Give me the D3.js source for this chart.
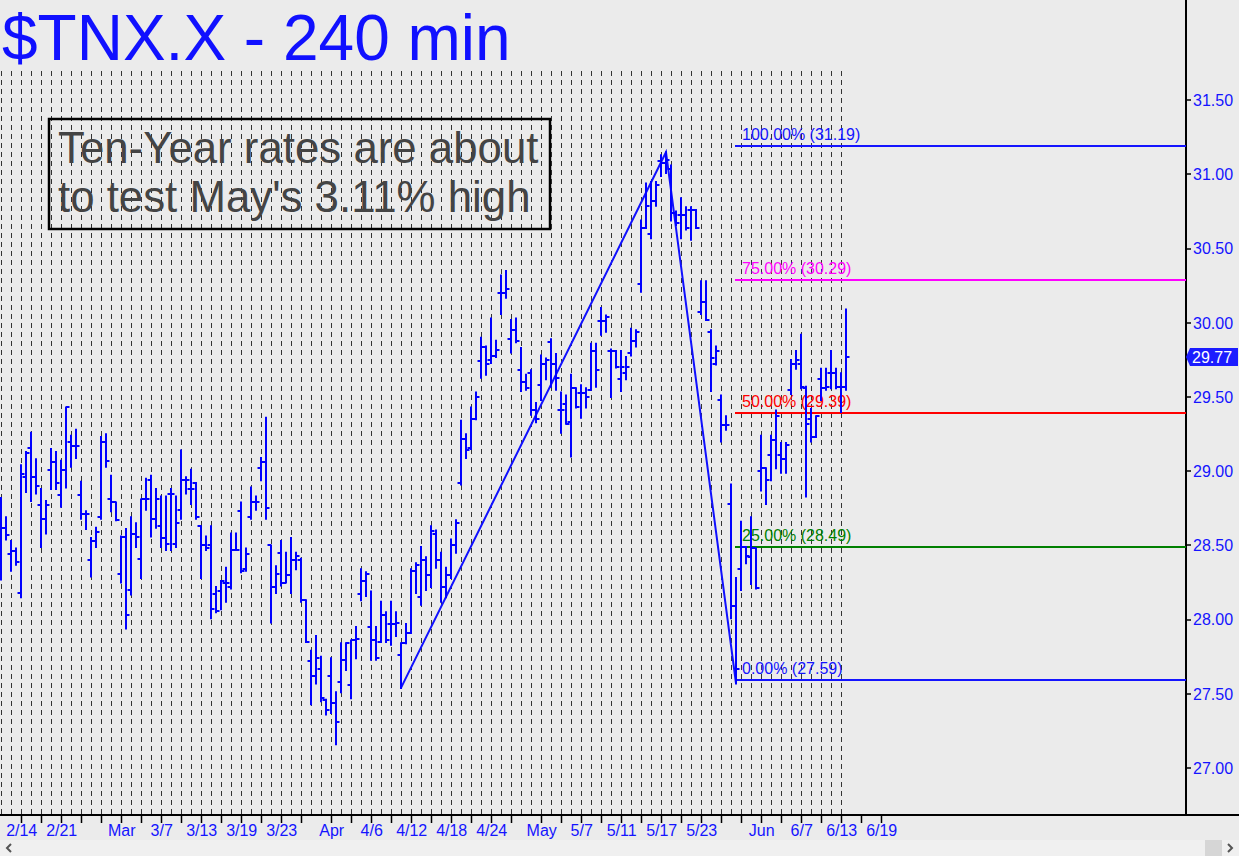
<!DOCTYPE html>
<html><head><meta charset="utf-8">
<script src="https://cdn.jsdelivr.net/npm/d3@7"></script>
<style>html,body{margin:0;padding:0;background:#ebebeb;overflow:hidden}svg{display:block}</style>
</head><body><svg id="c" width="1239" height="856"></svg>
<script>
// ---- data (TNX x10, 240-min bars, two bars per trading day) ----
const opens = [28.75,28.62,28.44,28.46,28.18,28.96,29.16,28.96,28.77,28.68,
29.01,29.06,28.84,29.01,29.20,29.17,28.84,28.71,28.40,28.53,
28.69,29.20,28.81,28.79,28.31,28.56,28.20,28.58,28.41,28.81,
28.94,28.68,28.63,28.55,28.85,28.51,28.74,28.94,28.88,28.92,
28.63,28.50,28.50,28.17,28.19,28.25,28.22,28.47,28.73,28.34,
28.69,28.79,29.02,29.06,28.50,28.22,28.45,28.25,28.30,28.40,
28.40,28.13,27.72,27.62,27.67,27.46,27.62,27.44,27.58,27.73,
27.56,27.86,28.17,28.26,27.95,27.86,27.85,28.03,27.97,27.97,
27.76,27.84,27.91,28.33,28.15,28.40,28.30,28.58,28.40,28.22,
28.30,28.50,28.92,29.22,29.16,29.35,29.74,29.84,29.75,29.78,
30.20,30.20,29.89,29.95,29.68,29.60,29.66,29.41,29.58,29.72,
29.87,29.72,29.41,29.45,29.33,29.56,29.53,29.53,29.55,29.81,
30.01,30.01,29.81,29.81,29.62,29.66,29.80,29.88,30.26,30.64,
30.60,30.82,31.09,31.08,31.04,30.74,30.73,30.73,30.76,30.76,
30.07,30.14,29.94,29.72,29.48,29.31,28.78,28.09,28.34,28.49,
28.42,28.48,29.00,29.02,29.11,29.21,29.11,29.08,29.55,29.72,
29.72,29.56,29.35,29.23,29.62,29.56,29.66,29.66,29.57,29.57];
const highs = [28.82,28.69,28.53,28.48,29.04,29.13,29.26,29.08,28.88,28.80,
29.15,29.13,29.07,29.43,29.24,29.28,28.93,28.73,28.55,28.62,
29.23,29.25,28.97,28.79,28.56,28.61,28.69,28.65,28.81,28.95,
28.97,28.88,28.83,28.83,28.88,28.83,29.14,28.96,29.01,28.92,
28.63,28.56,28.63,28.22,28.26,28.35,28.58,28.58,28.79,28.48,
28.89,28.83,29.09,29.36,28.50,28.36,28.53,28.45,28.55,28.45,
28.41,28.13,27.79,27.89,27.75,27.46,27.74,27.51,27.84,27.84,
27.86,27.95,28.34,28.32,28.19,27.95,28.12,28.05,28.12,28.05,
27.84,27.97,28.34,28.38,28.49,28.42,28.63,28.60,28.45,28.35,
28.54,28.67,29.34,29.25,29.43,29.53,29.90,29.84,30.03,29.88,
30.32,30.35,30.02,30.03,29.83,29.65,29.68,29.46,29.78,29.76,
29.89,29.79,29.53,29.51,29.65,29.56,29.58,29.56,29.86,29.86,
30.10,30.05,29.82,29.81,29.81,29.77,29.96,29.95,30.69,30.94,
30.95,30.95,31.13,31.15,31.06,30.75,30.84,30.78,30.78,30.76,
30.28,30.28,29.95,29.84,29.51,29.37,28.91,28.28,28.66,28.49,
28.69,28.48,29.24,29.02,29.24,29.41,29.19,29.19,29.75,29.81,
29.92,29.57,29.42,29.37,29.69,29.69,29.81,29.69,29.66,30.09];
const lows = [28.27,28.54,28.33,28.37,28.15,28.86,28.80,28.85,28.49,28.58,
28.88,28.88,28.76,28.89,29.03,29.09,28.68,28.61,28.29,28.49,
28.68,29.03,28.73,28.67,28.25,27.94,28.17,28.49,28.28,28.74,
28.56,28.62,28.49,28.47,28.47,28.49,28.68,28.85,28.78,28.68,
28.28,28.47,28.01,28.05,28.07,28.12,28.21,28.47,28.32,28.33,
28.68,28.74,28.94,28.68,27.98,28.18,28.23,28.25,28.18,28.34,
28.12,27.85,27.43,27.57,27.45,27.36,27.37,27.16,27.51,27.66,
27.47,27.74,28.13,28.16,27.73,27.73,27.85,27.85,27.83,27.89,
27.54,27.84,27.91,28.18,28.10,28.20,28.22,28.35,28.12,28.15,
28.28,28.45,28.91,29.09,29.15,29.35,29.63,29.65,29.73,29.77,
30.06,30.17,29.80,29.87,29.54,29.55,29.38,29.33,29.48,29.62,
29.57,29.55,29.26,29.32,29.10,29.43,29.36,29.43,29.55,29.57,
29.92,29.94,29.50,29.70,29.54,29.62,29.78,29.84,30.21,30.64,
30.57,30.79,30.99,31.01,30.69,30.66,30.57,30.63,30.56,30.64,
30.06,30.02,29.54,29.72,29.20,29.28,28.01,27.57,28.20,28.38,
28.24,28.21,28.87,28.78,28.94,29.02,28.99,28.99,29.52,29.69,
29.56,28.83,29.20,29.23,29.48,29.55,29.56,29.56,29.40,29.55];
const closes = [28.62,28.57,28.46,28.39,28.98,29.12,28.96,28.90,28.68,28.77,
29.06,28.92,29.01,29.43,29.17,29.17,28.71,28.71,28.53,28.59,
29.20,29.07,28.79,28.67,28.56,28.03,28.58,28.56,28.81,28.81,
28.68,28.81,28.55,28.51,28.85,28.65,28.94,28.94,28.88,28.69,
28.50,28.48,28.07,28.06,28.26,28.25,28.47,28.47,28.33,28.44,
28.79,28.79,29.06,28.75,28.22,28.31,28.25,28.30,28.40,28.43,
28.13,27.85,27.62,27.74,27.47,27.39,27.44,27.31,27.73,27.84,
27.86,27.87,28.26,28.31,27.86,27.74,28.03,27.86,27.97,27.98,
27.84,27.91,28.33,28.37,28.40,28.30,28.60,28.40,28.22,28.30,
28.50,28.65,29.22,29.14,29.35,29.50,29.84,29.72,29.78,29.82,
30.20,30.23,29.95,29.88,29.60,29.56,29.41,29.35,29.72,29.75,
29.72,29.63,29.41,29.32,29.56,29.43,29.53,29.50,29.81,29.68,
30.01,30.04,29.81,29.70,29.70,29.70,29.88,29.94,30.64,30.79,
30.82,30.93,31.08,31.10,30.74,30.67,30.73,30.64,30.76,30.64,
30.14,30.02,29.76,29.81,29.31,29.31,28.09,27.67,28.49,28.43,
28.48,28.21,29.02,28.94,29.21,29.37,29.08,29.18,29.72,29.75,
29.57,29.32,29.23,29.37,29.56,29.57,29.66,29.57,29.57,29.77];

const tickLabels = ["2/14","2/21","Mar","3/7","3/13","3/19","3/23","Apr","4/6","4/12","4/18","4/24","May","5/7","5/11","5/17","5/23","Jun","6/7","6/13","6/19"];
const tickDays   = [2,6,12,16,20,24,28,33,37,41,45,49,54,58,62,66,70,76,80,84,88];
const gridDayCount = 85;

const yTicks = [27.00,27.50,28.00,28.50,29.00,29.50,30.00,30.50,31.00,31.50];

const zigBars   = [80,133,147];
const zigValues = [27.54,31.15,27.57];

const fibLevels = [31.19,30.29,29.39,28.49,27.59];
const fibPct    = ["100.00%","75.00%","50.00%","25.00%","0.00%"];
const fibColors = ["#1414ff","#ff00ff","#ff0000","#008000","#1414ff"];
const fibStartBar = 147;

const lastPrice = 29.77;
const title = "$TNX.X - 240 min";
const noteLines = ["Ten-Year rates are about","to test May's 3.11% high"];

// ---- drawing ----
const W = 1239, H = 856;
const axisX = 1186, axisY = 815, gridTop = 71;
const FONT = "'Liberation Sans', Arial, Helvetica, sans-serif";
const BLUE = "#0000ff", TXT = "#1414ff";

const svg = d3.select("#c");
svg.append("rect").attr("width",W).attr("height",H).attr("fill","#ebebeb");

const xDay = d3.scaleLinear().domain([0,88]).range([1.7,881.7]);
const barX = i => Math.round(xDay(i/2) - 0.7);
const y = d3.scaleLinear().domain([27,31.5]).range([768,100.3]);

// grid
svg.append("g").selectAll("line").data(d3.range(gridDayCount)).join("line")
  .attr("x1",k=>Math.floor(xDay(k))+0.5).attr("x2",k=>Math.floor(xDay(k))+0.5)
  .attr("y1",gridTop).attr("y2",axisY)
  .attr("stroke","#333").attr("stroke-width",1).attr("stroke-dasharray","5,4");

// axes lines
svg.append("line").attr("x1",0).attr("x2",W).attr("y1",axisY).attr("y2",axisY).attr("stroke","#000").attr("stroke-width",2);
svg.append("line").attr("x1",axisX).attr("x2",axisX).attr("y1",0).attr("y2",axisY).attr("stroke","#000").attr("stroke-width",2);

// x ticks
const minor = [];
tickDays.forEach((d,i)=>{
  const next = i<tickDays.length-1 ? tickDays[i+1] : d+1;
  for(let t=d; t===d || t<=next-2; t+=2) minor.push(t);
});
svg.append("g").selectAll("line").data(minor).join("line")
  .attr("x1",d=>Math.floor(xDay(d))+0.5).attr("x2",d=>Math.floor(xDay(d))+0.5)
  .attr("y1",axisY).attr("y2",axisY+8).attr("stroke","#000").attr("stroke-width",1.5);
svg.append("g").selectAll("text").data(tickLabels).join("text")
  .attr("x",(d,i)=>xDay(tickDays[i])).attr("y",836).attr("text-anchor","middle")
  .attr("font-family",FONT).attr("font-size",16).attr("fill",TXT).text(d=>d);

// y ticks
const yAx = svg.append("g");
yAx.selectAll("line").data(yTicks).join("line")
  .attr("x1",axisX).attr("x2",axisX+5).attr("y1",d=>Math.round(y(d))).attr("y2",d=>Math.round(y(d)))
  .attr("stroke","#000").attr("stroke-width",1.5);
yAx.selectAll("text").data(yTicks).join("text")
  .attr("x",axisX+7).attr("y",d=>y(d)).attr("dy","0.36em")
  .attr("font-family",FONT).attr("font-size",16).attr("fill",TXT).text(d=>d.toFixed(2));

// fib lines
const fx1 = barX(fibStartBar) - 1;
const fg = svg.append("g");
fibLevels.forEach((v,i)=>{
  fg.append("line").attr("x1",fx1).attr("x2",axisX).attr("y1",Math.round(y(v))).attr("y2",Math.round(y(v)))
    .attr("stroke",fibColors[i]).attr("stroke-width",2);
  fg.append("text").attr("x",fx1+7).attr("y",y(v)-6).attr("font-family",FONT).attr("font-size",16)
    .attr("fill",fibColors[i]).text(fibPct[i]+" ("+v.toFixed(2)+")");
});

// zigzag
svg.append("path").datum(zigBars.map((b,i)=>[barX(b), y(zigValues[i])]))
  .attr("d",d3.line()).attr("fill","none").attr("stroke","#1010ff").attr("stroke-width",2);

// OHLC bars
const bars = d3.range(opens.length);
const bg = svg.append("g").attr("stroke",BLUE).attr("stroke-width",2);
bg.selectAll("line.v").data(bars).join("line").attr("class","v")
  .attr("x1",barX).attr("x2",barX).attr("y1",i=>y(highs[i])-1).attr("y2",i=>y(lows[i])+1);
bg.selectAll("line.o").data(bars).join("line").attr("class","o")
  .attr("x1",i=>barX(i)-3.5).attr("x2",i=>barX(i)).attr("y1",i=>Math.round(y(opens[i]))).attr("y2",i=>Math.round(y(opens[i])));
bg.selectAll("line.c").data(bars).join("line").attr("class","c")
  .attr("x1",i=>barX(i)).attr("x2",i=>barX(i)+3.5).attr("y1",i=>Math.round(y(closes[i]))).attr("y2",i=>Math.round(y(closes[i])));

// last price tag
const ty = Math.round(y(lastPrice));
svg.append("path").attr("d",`M${axisX},${ty} L${axisX+4},${ty-9} L${W-1},${ty-9} L${W-1},${ty+9} L${axisX+4},${ty+9} Z`)
  .attr("fill","#1c1cff");
svg.append("text").attr("x",axisX+6).attr("y",ty).attr("dy","0.36em").attr("font-family",FONT)
  .attr("font-size",16).attr("fill","#fff").text(lastPrice.toFixed(2));

// title
svg.append("text").attr("x",2).attr("y",60).attr("font-family",FONT).attr("font-size",64)
  .attr("fill","#1010ff").text(title);

// note box
svg.append("rect").attr("x",49).attr("y",119).attr("width",501).attr("height",110)
  .attr("fill","none").attr("stroke","#000").attr("stroke-width",2.5);
svg.append("g").selectAll("text").data(noteLines).join("text")
  .attr("x",58).attr("y",(d,i)=>163+i*49).attr("font-family",FONT).attr("font-size",43.8)
  .attr("fill","#444").text(d=>d);

// scrollbar strip
svg.append("rect").attr("x",0).attr("y",840).attr("width",W).attr("height",16).attr("fill","#f0f0f0");
svg.append("rect").attr("x",1205).attr("y",840).attr("width",17).attr("height",16).attr("fill","#d6d6d6");
svg.append("path").attr("d","M11,844 L7,848 L11,852").attr("fill","none").attr("stroke","#555").attr("stroke-width",2);
svg.append("path").attr("d","M1228,844 L1232,848 L1228,852").attr("fill","none").attr("stroke","#555").attr("stroke-width",2);
</script></body></html>
